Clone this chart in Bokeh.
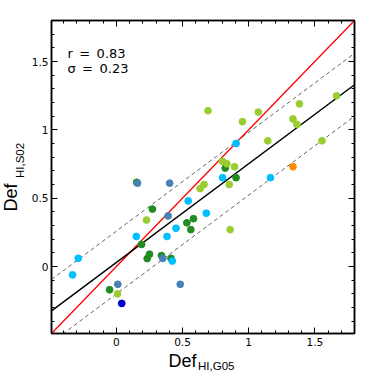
import numpy as np
from bokeh.plotting import figure
from bokeh.layouts import column, row
from bokeh.models import Range1d, LinearAxis, FixedTicker, Label, CustomJSTickFormatter
from bokeh.core.properties import value
from bokeh.embed import file_html
from bokeh.resources import INLINE

# ---- data ----
lightgreen_x = [0.693, 1.073, 0.953, 1.384, 1.664, 1.335, 1.365, 1.145, 1.554, 0.803, 0.835, 0.893, 0.663, 0.633, 0.853, 0.860, 0.228, 0.009]
lightgreen_y = [1.140, 1.130, 1.060, 1.190, 1.249, 1.080, 1.040, 0.920, 0.920, 0.769, 0.752, 0.730, 0.600, 0.570, 0.600, 0.270, 0.340, -0.200]

darkgreen_x = [0.154, 0.273, 0.191, 0.251, 0.233, 0.341, 0.413, 0.533, 0.583, 0.563, -0.051, 0.823, 0.905]
darkgreen_y = [0.616, 0.420, 0.162, 0.090, 0.058, 0.080, 0.060, 0.320, 0.350, 0.270, -0.170, 0.720, 0.650]

skyblue_x = [-0.288, -0.331, 0.151, 0.383, 0.451, 0.543, 0.423, 0.905, 0.803, 1.165, 0.680]
skyblue_y = [0.060, -0.061, 0.220, 0.220, 0.280, 0.480, 0.040, 0.900, 0.650, 0.650, 0.390]

steelblue_x = [0.160, 0.403, 0.391, 0.351, 0.011, 0.483]
steelblue_y = [0.610, 0.610, 0.370, 0.060, -0.130, -0.130]

blue_x = [0.041]
blue_y = [-0.270]

orange_x = [1.335]
orange_y = [0.730]

fit_slope = 0.7227
fit_intercept = 0.029
r_value = 0.83
sigma = 0.23

tick_values = [0, 0.5, 1, 1.5]
tick_labels = ["0", "0.5", "1", "1.5"]

x_label_main, x_label_sub = "Def", "HI,G05"
y_label_main, y_label_sub = "Def", "HI,S02"

xlim = (-0.49, 1.80)
ylim = (-0.49, 1.80)

FONT = "DejaVu Sans"
LFONT = "Liberation Sans"

YW = 28          # width of left label strip
MAIN_W = 338     # main canvas width
MAIN_H = 350     # main canvas height
XH = 23          # height of bottom label strip
TOP_B, BOT_B = 20, 17

p = figure(width=MAIN_W, height=MAIN_H, title=None,
           min_border_left=21, min_border_top=TOP_B, min_border_right=12, min_border_bottom=BOT_B,
           x_range=Range1d(*xlim), y_range=Range1d(*ylim),
           output_backend="svg", toolbar_location=None,
           x_axis_location=None, y_axis_location=None)
p.grid.visible = False
p.outline_line_color = "black"
p.outline_line_width = 1.5
p.background_fill_color = "white"
p.border_fill_color = "white"

minor = [round(v, 1) for v in np.arange(-0.4, 1.81, 0.1)]
ticker = FixedTicker(ticks=tick_values, minor_ticks=minor)
overrides = {v: l for v, l in zip(tick_values, tick_labels)}
blank = CustomJSTickFormatter(code="return ''")

def style(ax, labels=True):
    ax.ticker = ticker
    ax.major_tick_in = 6
    ax.major_tick_out = 0
    ax.minor_tick_in = 3
    ax.minor_tick_out = 0
    ax.major_tick_line_color = "black"
    ax.minor_tick_line_color = "black"
    ax.major_tick_line_width = 1
    ax.minor_tick_line_width = 1
    ax.axis_line_color = "black"
    ax.axis_line_width = 1.5
    ax.major_label_text_font = FONT
    ax.major_label_text_font_size = "10.5px"
    ax.major_label_text_color = "black"
    if labels:
        ax.major_label_overrides = overrides
    else:
        ax.formatter = blank
        ax.major_label_standoff = 0

for loc, lab in (("below", True), ("left", True), ("above", False), ("right", False)):
    ax = LinearAxis()
    style(ax, lab)
    if loc == "below":
        ax.major_label_standoff = 4
    if loc == "left":
        ax.major_label_standoff = 3
    p.add_layout(ax, loc)

xx = np.array(xlim)
p.line(xx, xx, line_color="red", line_width=1.3)
yfit = fit_slope * xx + fit_intercept
p.line(xx, yfit, line_color="black", line_width=1.5)
p.line(xx, yfit + sigma, line_color="#666666", line_width=1, line_dash="4 3")
p.line(xx, yfit - sigma, line_color="#666666", line_width=1, line_dash="4 3")

S = 6.8
p.scatter(darkgreen_x, darkgreen_y, size=S, color="#228b22")
p.scatter(steelblue_x, steelblue_y, size=S, color="#4682b4")
p.scatter(skyblue_x, skyblue_y, size=S, color="#00bfff")
p.scatter(lightgreen_x, lightgreen_y, size=S, color="#9acd32")
p.scatter(blue_x, blue_y, size=S, color="#0000cd")
p.scatter(orange_x, orange_y, size=S, color="#ff8c00")

SP = "\u2002"
for txt, yv in ((f"r{SP}={SP}{r_value:.2f}", 1.557), (f"\u03c3{SP}={SP}{sigma:.2f}", 1.448)):
    p.add_layout(Label(x=-0.37, y=yv, text=txt, text_font=FONT, text_font_size="13px",
                       text_baseline="alphabetic", text_color="black"))

def strip(w, h, yr):
    f = figure(width=w, height=h, title=None, min_border=0,
               x_range=Range1d(0, w), y_range=Range1d(*yr),
               output_backend="svg", toolbar_location=None,
               x_axis_location=None, y_axis_location=None)
    f.grid.visible = False
    f.outline_line_color = None
    f.background_fill_color = "white"
    f.border_fill_color = "white"
    return f

# left strip: its frame is aligned with the main frame (page y 20..333); data y = -page y
yl = strip(YW, MAIN_H, (-(MAIN_H - BOT_B), -TOP_B))
yl.text(x=[10.2], y=[-211], text=[y_label_main], angle=np.pi / 2,
        text_font=value(LFONT), text_font_size="18px", text_baseline="alphabetic",
        text_align="left", text_color="black")
yl.text(x=[19.5], y=[-177.5], text=[y_label_sub], angle=np.pi / 2,
        text_font=value(LFONT), text_font_size="11.5px", text_baseline="alphabetic",
        text_align="left", text_color="black")

# bottom strip: page y MAIN_H..MAIN_H+XH ; data y = -page y
XW = YW + MAIN_W
xl = strip(XW, XH, (-(MAIN_H + XH), -MAIN_H))
xl.text(x=[168], y=[-(366.5 - 6.5)], text=[x_label_main],
        text_font=value(LFONT), text_font_size="18px", text_baseline="alphabetic",
        text_align="left", text_color="black")
xl.text(x=[197.5], y=[-(369.5 - 4.2)], text=[x_label_sub],
        text_font=value(LFONT), text_font_size="11.5px", text_baseline="alphabetic",
        text_align="left", text_color="black")

layout = column(row(yl, p, spacing=0), xl, spacing=0)
open("out.html", "w").write(file_html(layout, INLINE))
